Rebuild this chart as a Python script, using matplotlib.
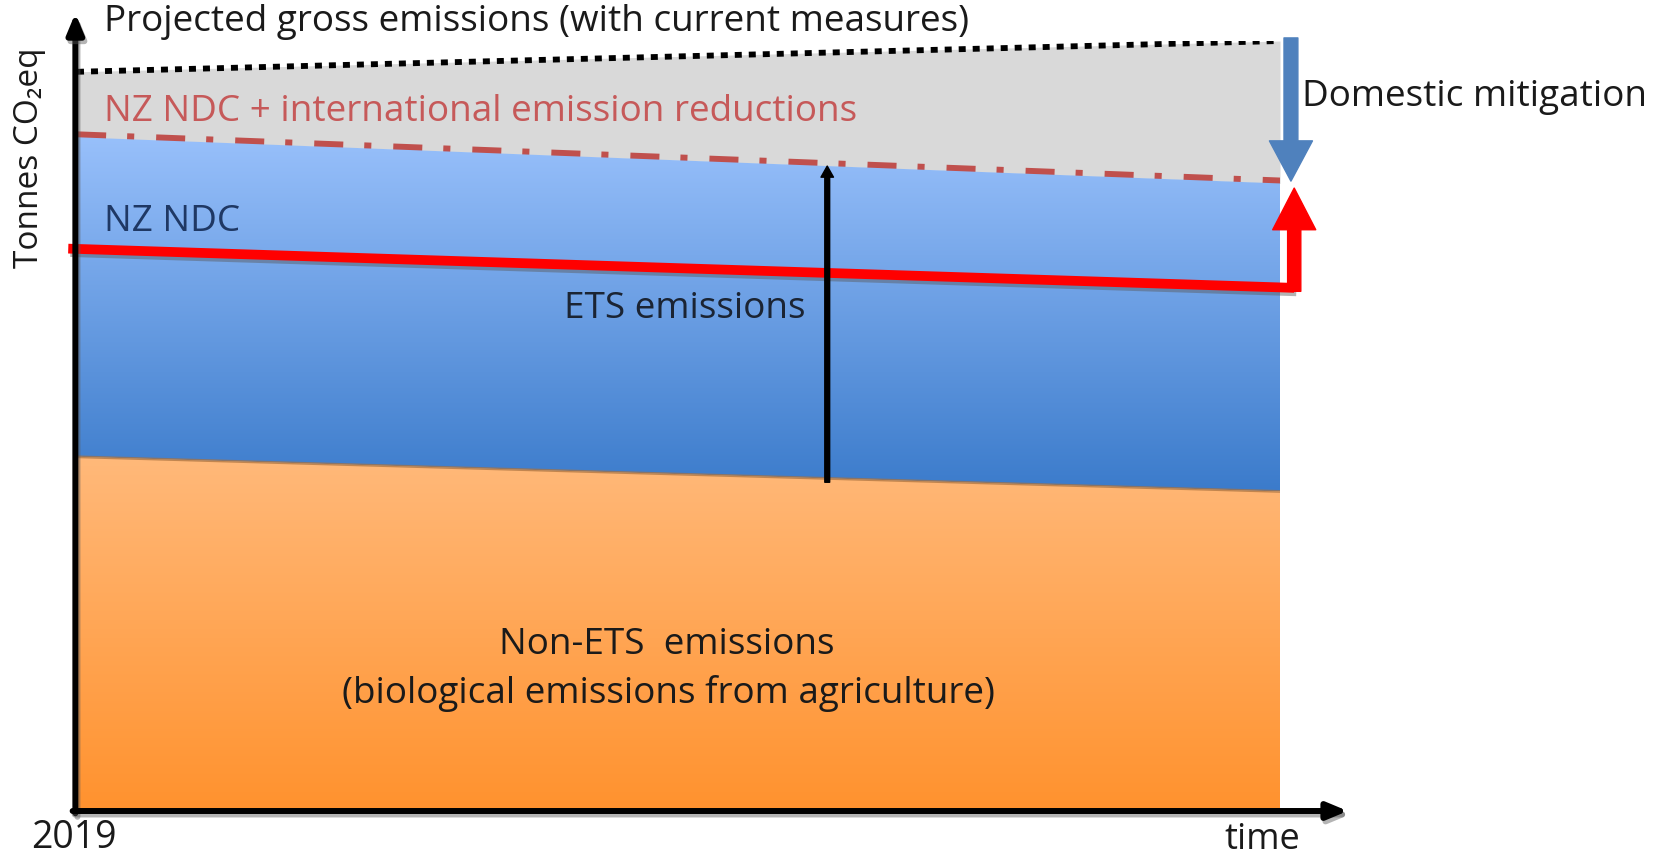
import numpy as np
import matplotlib
matplotlib.use("Agg")
import matplotlib.pyplot as plt
from matplotlib.colors import LinearSegmentedColormap
import matplotlib.patheffects as pe

plt.rcParams['font.family'] = ['Open Sans', 'DejaVu Sans']

#####################################
# schematic data (arbitrary units, 0 = x axis, 100 = top of plot)
years = [2019, 2030]
gross = [96.0, 100.0]        # projected gross emissions (dotted)
ndc_intl = [87.5, 81.5]      # NZ NDC + international reductions (dash-dot)
ndc = [73.0, 68.0]           # NZ NDC (red line)
non_ets = [46.0, 41.5]       # non-ETS (agriculture) top
ets_arrow_year = 2025.86
FS = 26.6
#####################################

W, H = 1665, 861
fig = plt.figure(figsize=(W / 100, H / 100), dpi=100)
# axes placed so that 2019..2030 -> px 77..1280, 0..100 -> px 811..41
ax = fig.add_axes([77 / W, (H - 811) / H, (1280 - 77) / W, 770 / H])
ax.axis('off')

x = np.array(years, float)
shadow = [pe.SimpleLineShadow(offset=(1.5, -2.5), shadow_color='0.35', alpha=0.45), pe.Normal()]


def grad_fill(lo, hi, c_top, c_bot, z):
    poly = ax.fill_between(x, lo, hi, color='none', lw=0)
    cmap = LinearSegmentedColormap.from_list('g', [c_bot, c_top])
    grad = np.linspace(0, 1, 256).reshape(-1, 1)
    im = ax.imshow(grad, cmap=cmap, origin='lower', aspect='auto',
                   extent=[x[0], x[-1], min(lo), max(hi)], zorder=z)
    im.set_clip_path(poly.get_paths()[0], ax.transData)
    return im


# grey band between ndc_intl and gross
ax.fill_between(x, ndc_intl, gross, color='#d9d9d9', lw=0, zorder=1)
# red dash-dot line sits half under the blue band
ax.plot(x, ndc_intl, color='#c0504d', lw=8.5, zorder=2,
        dashes=(2.46, 1.78, 0.6, 1.86), solid_capstyle='butt')
grad_fill(non_ets, ndc_intl, '#98c0fb', '#3b7bcb', 3)
grad_fill([0, 0], non_ets, '#ffb97a', '#ff922e', 4)
ax.plot(x, non_ets, color='#a8713f', lw=2, alpha=0.7, zorder=5)

# dotted projected gross line
ax.plot(x, gross, color='black', lw=4.2, dashes=(1.2, 1.2), zorder=6)

# NZ NDC red line, extended a bit past both ends then arrow up
slope = (ndc[1] - ndc[0]) / (x[1] - x[0])
x_red = np.array([2018.92, 2030.13])
y_red = ndc[0] + slope * (x_red - x[0])
ax.plot(x_red, y_red, color='#ff0000', lw=7, zorder=8, clip_on=False,
        solid_capstyle='butt', path_effects=shadow)
ax.annotate('', xy=(x_red[1], ndc_intl[1] - 0.6), xytext=(x_red[1], y_red[1] - 0.45),
            arrowprops=dict(arrowstyle='simple,head_length=30,head_width=31,tail_width=9.5',
                            mutation_scale=1, color='#ff0000', shrinkA=0, shrinkB=0),
            zorder=8, annotation_clip=False)

# domestic mitigation arrow
ax.annotate('', xy=(2030.1, ndc_intl[1] + 0.3), xytext=(2030.1, gross[1] + 0.4),
            arrowprops=dict(arrowstyle='simple,head_length=29,head_width=31,tail_width=10',
                            mutation_scale=1, color='#4f81bd', shrinkA=0, shrinkB=0),
            zorder=8, annotation_clip=False)

# ETS emissions arrow
y_lo = np.interp(ets_arrow_year, x, non_ets)
y_hi = np.interp(ets_arrow_year, x, ndc_intl)
ax.annotate('', xy=(ets_arrow_year, y_hi), xytext=(ets_arrow_year, y_lo - 0.5),
            arrowprops=dict(arrowstyle='simple,head_length=8,head_width=9,tail_width=3.5',
                            mutation_scale=1, color='black', shrinkA=0, shrinkB=0),
            zorder=9, annotation_clip=False)

# axes drawn as arrows
ax.annotate('', xy=(2018.985, 103.6), xytext=(2018.985, -0.3),
            arrowprops=dict(arrowstyle='-|>,head_length=0.6,head_width=0.25', lw=4.3,
                            color='black', mutation_scale=20, shrinkA=0, shrinkB=0,
                            path_effects=shadow),
            zorder=10, annotation_clip=False)
ax.annotate('', xy=(2030.62, 0), xytext=(2018.96, 0),
            arrowprops=dict(arrowstyle='-|>,head_length=0.6,head_width=0.25', lw=4.3,
                            color='black', mutation_scale=20, shrinkA=0, shrinkB=0,
                            path_effects=shadow),
            zorder=10, annotation_clip=False)

ax.set_xlim(x[0], x[1])
ax.set_ylim(0, 100)


def ftext(px, py, s, **kw):
    fig.text(px / W, 1 - py / H, s, va='center', **kw)


ftext(104, 22, 'Projected gross emissions (with current measures)', fontsize=FS, color='#1a1a1a')
ftext(104, 112, 'NZ NDC + international emission reductions', fontsize=FS, color='#c65959')
ftext(104, 222, 'NZ NDC', fontsize=FS, color='#1f3864')
ftext(564, 309, 'ETS emissions', fontsize=FS, color='#1b2433')
ftext(667, 645, 'Non-ETS  emissions', fontsize=FS, color='#1a1a1a', ha='center')
ftext(669, 693, '(biological emissions from agriculture)', fontsize=FS, color='#1a1a1a', ha='center')
ftext(1302, 97, 'Domestic mitigation', fontsize=FS, color='#1a1a1a')
ftext(74, 838, '2019', fontsize=27, color='#1a1a1a', ha='center')
ftext(1262, 840, 'time', fontsize=26, color='#1a1a1a', ha='center')
fig.text(30 / W, 1 - 158 / H, 'Tonnes CO₂eq', fontsize=24, color='#1a1a1a',
         rotation=90, ha='center', va='center')

fig.savefig('out.png', dpi=100)
